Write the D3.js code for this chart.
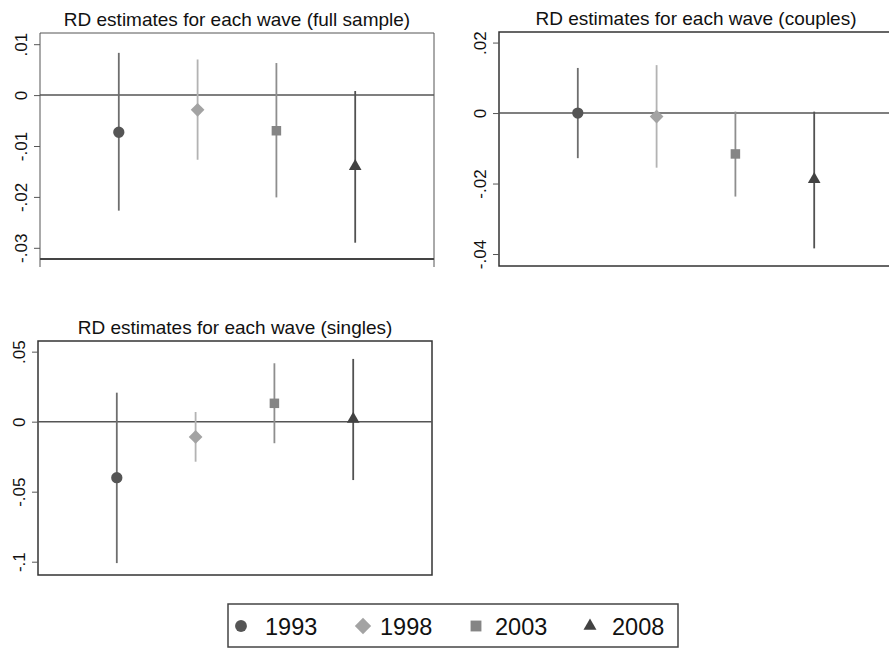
<!DOCTYPE html>
<html>
<head>
<meta charset="utf-8">
<script src="https://cdn.jsdelivr.net/npm/d3@7"></script>
<style>
  html, body { margin: 0; padding: 0; background: #fff; }
  svg { display: block; font-family: "Liberation Sans", Arial, Helvetica, sans-serif; }
</style>
</head>
<body>
<svg id="chart" width="889" height="653"></svg>
<script>
// Regression-discontinuity estimates with 95% confidence intervals, by survey wave.
const waves = ["1993", "1998", "2003", "2008"];

// Full sample
const fullEst = [-0.0073, -0.0029, -0.0070, -0.0140];
const fullLo  = [-0.0227, -0.0127, -0.0201, -0.0290];
const fullHi  = [ 0.0083,  0.0070,  0.0063,  0.0008];
const fullTicks = [0.01, 0, -0.01, -0.02, -0.03];
const fullTickLabels = [".01", "0", "-.01", "-.02", "-.03"];
const fullDomain = [-0.0322, 0.0122];

// Couples
const coupEst = [ 0.0000, -0.0010, -0.0116, -0.0188];
const coupLo  = [-0.0128, -0.0155, -0.0237, -0.0384];
const coupHi  = [ 0.0128,  0.0136,  0.0004,  0.0004];
const coupTicks = [0.02, 0, -0.02, -0.04];
const coupTickLabels = [".02", "0", "-.02", "-.04"];
const coupDomain = [-0.0434, 0.0230];

// Singles
const singEst = [-0.0400, -0.0109,  0.0131,  0.0019];
const singLo  = [-0.1010, -0.0286, -0.0154, -0.0417];
const singHi  = [ 0.0207,  0.0069,  0.0417,  0.0448];
const singTicks = [0.05, 0, -0.05, -0.1];
const singTickLabels = [".05", "0", "-.05", "-.1"];
const singDomain = [-0.1095, 0.0576];

// Marker styling per wave
const markerShapes = [d3.symbolCircle, d3.symbolDiamond2, d3.symbolSquare2, d3.symbolTriangle2];
const markerFill  = ["#555555", "#a3a3a3", "#858585", "#424242"];
const ciStroke    = ["#6e6e6e", "#b3b3b3", "#8e8e8e", "#525252"];
const markerSize  = [100, 120, 115, 115];

const svg = d3.select("#chart");

function drawPanel(cfg) {
  const g = svg.append("g");
  const x = d3.scaleLinear().domain([0, waves.length + 1]).range([cfg.left, cfg.right]);
  const y = d3.scaleLinear().domain(cfg.domain).range([cfg.bottom, cfg.top]);

  // title
  g.append("text")
    .attr("x", (cfg.left + cfg.right) / 2)
    .attr("y", cfg.top - 7)
    .attr("text-anchor", "middle")
    .attr("font-size", 19)
    .attr("fill", "#111")
    .text(cfg.title);

  // frame
  if (cfg.style === "open") {
    g.append("path")
      .attr("d", `M${cfg.left},${cfg.bottom + 8}V${cfg.top}H${cfg.right}V${cfg.bottom + 8}`)
      .attr("fill", "none").attr("stroke", "#555").attr("stroke-width", 1);
    g.append("line")
      .attr("x1", cfg.left).attr("x2", cfg.right)
      .attr("y1", cfg.bottom).attr("y2", cfg.bottom)
      .attr("stroke", "#444").attr("stroke-width", 2);
  } else {
    g.append("rect")
      .attr("x", cfg.left).attr("y", cfg.top)
      .attr("width", cfg.right - cfg.left).attr("height", cfg.bottom - cfg.top)
      .attr("fill", "none").attr("stroke", "#333").attr("stroke-width", 1.5);
  }

  // y axis ticks and rotated labels
  const axis = d3.axisLeft(y)
    .tickValues(cfg.ticks)
    .tickSize(6)
    .tickPadding(0)
    .tickFormat((d, i) => cfg.tickLabels[i]);
  const ax = g.append("g").attr("transform", `translate(${cfg.left},0)`).call(axis);
  ax.select(".domain").remove();
  ax.selectAll(".tick line").attr("stroke", "#555").attr("stroke-width", 1);
  ax.selectAll(".tick text")
    .attr("x", null).attr("dy", null)
    .attr("font-size", 17)
    .attr("fill", "#111")
    .attr("text-anchor", "middle")
    .attr("transform", "translate(-13,0) rotate(-90)");

  // zero reference line
  g.append("line")
    .attr("x1", cfg.left).attr("x2", cfg.right)
    .attr("y1", y(0)).attr("y2", y(0))
    .attr("stroke", "#555").attr("stroke-width", 1.5);

  // confidence intervals
  g.selectAll(".ci").data(waves).enter().append("line")
    .attr("x1", (d, i) => x(i + 1)).attr("x2", (d, i) => x(i + 1))
    .attr("y1", (d, i) => y(cfg.lo[i])).attr("y2", (d, i) => y(cfg.hi[i]))
    .attr("stroke", (d, i) => ciStroke[i]).attr("stroke-width", 1.8);

  // point estimates
  g.selectAll(".pt").data(waves).enter().append("path")
    .attr("transform", (d, i) => `translate(${x(i + 1)},${y(cfg.est[i])})`)
    .attr("d", (d, i) => d3.symbol(markerShapes[i], markerSize[i])())
    .attr("fill", (d, i) => markerFill[i]);
}

drawPanel({
  title: "RD estimates for each wave (full sample)",
  left: 40, right: 434, top: 33, bottom: 259, style: "open",
  domain: fullDomain, ticks: fullTicks, tickLabels: fullTickLabels,
  est: fullEst, lo: fullLo, hi: fullHi
});
drawPanel({
  title: "RD estimates for each wave (couples)",
  left: 499, right: 893, top: 32, bottom: 266, style: "box",
  domain: coupDomain, ticks: coupTicks, tickLabels: coupTickLabels,
  est: coupEst, lo: coupLo, hi: coupHi
});
drawPanel({
  title: "RD estimates for each wave (singles)",
  left: 38, right: 432, top: 341, bottom: 575, style: "box",
  domain: singDomain, ticks: singTicks, tickLabels: singTickLabels,
  est: singEst, lo: singLo, hi: singHi
});

// legend
const legendX = [241, 363, 476, 590];
const legend = svg.append("g");
legend.append("rect")
  .attr("x", 228).attr("y", 604).attr("width", 450).attr("height", 43)
  .attr("fill", "#fff").attr("stroke", "#444").attr("stroke-width", 1.5);
const legendSize = [110, 170, 150, 120];
waves.forEach((w, i) => {
  legend.append("path")
    .attr("transform", `translate(${legendX[i]},626)`)
    .attr("d", d3.symbol(markerShapes[i], legendSize[i])())
    .attr("fill", markerFill[i]);
  legend.append("text")
    .attr("x", legendX[i] + (i === 0 ? 24 : (i === 1 ? 17 : (i === 2 ? 19 : 22))))
    .attr("y", 635)
    .attr("font-size", 23.5)
    .attr("fill", "#111")
    .text(w);
});
</script>
</body>
</html>
